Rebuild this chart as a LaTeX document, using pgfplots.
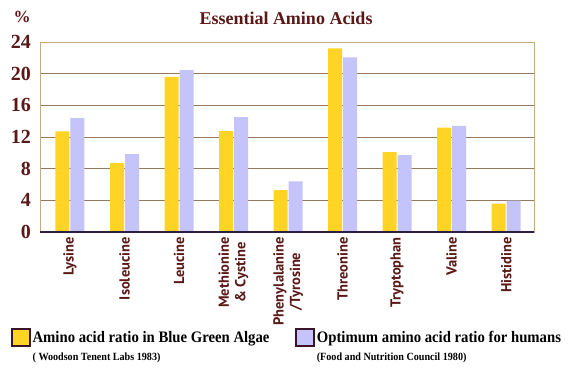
\documentclass[border=0pt]{standalone}
\usepackage{pgfplots}
\pgfplotsset{compat=1.18}
\usepackage{fontspec}
\setmainfont{Liberation Serif}
\newfontfamily\labfont{PT Sans}
\newfontfamily\legfont{Liberation Serif}[FakeStretch=0.92]
\definecolor{cyel}{RGB}{255,212,36}
\definecolor{cblu}{RGB}{196,196,250}
\definecolor{maroon}{RGB}{90,24,22}
\definecolor{gridc}{RGB}{150,120,90}
\definecolor{sidec}{RGB}{200,170,130}
\definecolor{basec}{RGB}{45,30,70}
\definecolor{boxc}{RGB}{60,20,40}
\begin{document}
\begin{tikzpicture}
\useasboundingbox[fill=white] (0,0) rectangle (572pt,381pt);
\begin{axis}[
  at={(40pt,149pt)}, anchor=south west,
  scale only axis, width=494pt, height=190pt,
  xmin=-0.55, xmax=8.51, ymin=0, ymax=24,
  ytick={0,4,...,24},
  xtick={0,...,8},
  xticklabels={Lysine,Isoleucine,Leucine,{Methionine\\\& Cystine},{Phenylalanine\\/Tyrosine},Threonine,Tryptophan,Valine,Histidine},
  xticklabel style={rotate=90, anchor=east, align=center, font=\labfont\bfseries\fontsize{14.5}{16.5}\selectfont, text=maroon, inner sep=5pt},
  yticklabel style={font=\bfseries\fontsize{20}{20}\selectfont, text=maroon, inner sep=3pt, xshift=-6pt},
  /pgf/number format/assume math mode=true,
  major tick length=0pt,
  ymajorgrids, grid style={gridc, line width=0.6pt},
  axis line style={sidec, line width=0.6pt},
  ybar, bar width=14pt,
  title={Essential Amino Acids},
  title style={font=\bfseries\fontsize{18}{18}\selectfont, text=maroon, at={(axis description cs:0.498,1)}, anchor=base, yshift=12pt},
  legend columns=2,
  legend style={draw=none, fill=none, inner sep=0pt, at={(axis description cs:-0.0587,-0.505)}, anchor=north west,
    nodes={inner sep=0pt, anchor=base west},
    /tikz/every odd column/.append style={column sep=2pt},
    /tikz/every even column/.append style={column sep=26pt}},
  legend image code/.code={\draw[#1, draw=boxc, line width=1.4pt] (0pt,-3pt) rectangle (18pt,14pt);},
  after end axis/.code={
    \draw[basec, line width=2pt] (rel axis cs:0,0) -- (rel axis cs:1,0);
    \node[anchor=base, text=maroon, font=\bfseries\fontsize{17}{17}\selectfont] at (rel axis cs:-0.0364,1) [yshift=20pt] {\%};
  },
]
\addplot[fill=cyel, draw=none, bar shift=-7.5pt] coordinates {
 (0,12.7) (1,8.7) (2,19.6) (3,12.75) (4,5.3) (5,23.2) (6,10.1) (7,13.2) (8,3.6)};
\addplot[fill=cblu, draw=none, bar shift=7.5pt] coordinates {
 (0,14.4) (1,9.85) (2,20.45) (3,14.5) (4,6.4) (5,22.05) (6,9.7) (7,13.4) (8,3.95)};
\legend{{\begin{tabular}[t]{@{}l@{}}{\legfont\bfseries\fontsize{16}{16}\selectfont Amino acid ratio in Blue Green Algae}\\[6pt]{\legfont\bfseries\fontsize{11}{11}\selectfont ( Woodson Tenent Labs 1983)}\end{tabular}},
 {\begin{tabular}[t]{@{}l@{}}{\legfont\bfseries\fontsize{16}{16}\selectfont Optimum amino acid ratio for humans}\\[6pt]{\legfont\bfseries\fontsize{11}{11}\selectfont (Food and Nutrition Council 1980)}\end{tabular}}}
\end{axis}
\end{tikzpicture}
\end{document}
